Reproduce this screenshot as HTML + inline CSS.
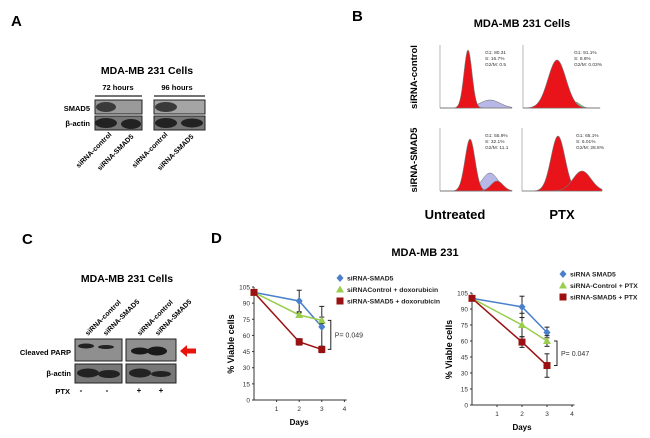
<!DOCTYPE html>
<html><head><meta charset="utf-8"><style>
body{margin:0;background:#fff;width:650px;height:438px;overflow:hidden;font-family:"Liberation Sans",Arial,sans-serif}
svg{position:absolute;left:0;top:0}
</style></head><body>
<svg id="fig" width="650" height="438" viewBox="0 0 650 438" font-family="Liberation Sans, Arial, sans-serif">
<g>
<text x="11" y="26" font-size="15" font-weight="bold">A</text>
<text x="147" y="74" font-size="10.5" font-weight="bold" text-anchor="middle">MDA-MB 231 Cells</text>
<text x="118" y="90" font-size="7.5" font-weight="bold" text-anchor="middle">72 hours</text>
<text x="177" y="90" font-size="7.5" font-weight="bold" text-anchor="middle">96 hours</text>
<line x1="95" y1="96" x2="142" y2="96" stroke="#222" stroke-width="1.2"/>
<line x1="154" y1="96" x2="205" y2="96" stroke="#222" stroke-width="1.2"/>
<text x="90" y="111" font-size="7.5" font-weight="bold" text-anchor="end">SMAD5</text>
<text x="90" y="126" font-size="7.5" font-weight="bold" text-anchor="end">β-actin</text>
<g>
<rect x="95" y="100" width="47" height="14" fill="#9a9a9a" stroke="#222"/>
<ellipse cx="106" cy="107" rx="10" ry="5" fill="#3a3a3a"/>
<rect x="154" y="100" width="51" height="14" fill="#a5a5a5" stroke="#222"/>
<ellipse cx="166" cy="107" rx="11" ry="5" fill="#3a3a3a"/>
<rect x="95" y="116" width="47" height="14" fill="#777" stroke="#222"/>
<ellipse cx="106" cy="123" rx="11" ry="5" fill="#222"/><ellipse cx="131" cy="124" rx="10" ry="5" fill="#222"/>
<rect x="154" y="116" width="51" height="14" fill="#777" stroke="#222"/>
<ellipse cx="166" cy="123" rx="11" ry="5" fill="#222"/><ellipse cx="192" cy="123" rx="11" ry="4.5" fill="#222"/>
</g>
<g font-size="7" font-weight="bold">
<text transform="translate(112,135) rotate(-45)" text-anchor="end">siRNA-control</text>
<text transform="translate(134,137) rotate(-45)" text-anchor="end">siRNA-SMAD5</text>
<text transform="translate(168,135) rotate(-45)" text-anchor="end">siRNA-control</text>
<text transform="translate(194,137) rotate(-45)" text-anchor="end">siRNA-SMAD5</text>
</g>
</g>
<g>
<text x="352" y="21" font-size="15" font-weight="bold">B</text>
<text x="522" y="27" font-size="11" font-weight="bold" text-anchor="middle">MDA-MB 231 Cells</text>
<text transform="translate(417,77) rotate(-90)" font-size="9.5" font-weight="bold" text-anchor="middle">siRNA-control</text>
<text transform="translate(417,160) rotate(-90)" font-size="9.5" font-weight="bold" text-anchor="middle">siRNA-SMAD5</text>
<text x="455" y="219" font-size="13" font-weight="bold" text-anchor="middle">Untreated</text>
<text x="562" y="219" font-size="13" font-weight="bold" text-anchor="middle">PTX</text>
<g id="hists"></g>
</g>
<g>
<text x="22" y="244" font-size="15" font-weight="bold">C</text>
<text x="127" y="282" font-size="10.5" font-weight="bold" text-anchor="middle">MDA-MB 231 Cells</text>
<g font-size="7" font-weight="bold">
<text transform="translate(88,336) rotate(-45)">siRNA-control</text>
<text transform="translate(106,336) rotate(-45)">siRNA-SMAD5</text>
<text transform="translate(140,336) rotate(-45)">siRNA-control</text>
<text transform="translate(158,336) rotate(-45)">siRNA-SMAD5</text>
</g>
<text x="71" y="355" font-size="7.5" font-weight="bold" text-anchor="end">Cleaved PARP</text>
<text x="71" y="376" font-size="7.5" font-weight="bold" text-anchor="end">β-actin</text>
<text x="70" y="394" font-size="7.5" font-weight="bold" text-anchor="end">PTX</text>
<g font-size="8" font-weight="bold" text-anchor="middle"><text x="81" y="393">-</text><text x="107" y="393">-</text><text x="139" y="393">+</text><text x="161" y="393">+</text></g>
<g>
<rect x="75" y="339" width="47" height="22" fill="#8f8f8f" stroke="#222"/>
<ellipse cx="86" cy="346" rx="8" ry="2.5" fill="#222"/><ellipse cx="106" cy="347" rx="8" ry="2" fill="#222"/>
<rect x="126" y="339" width="50" height="22" fill="#8f8f8f" stroke="#222"/>
<ellipse cx="140" cy="351" rx="9" ry="3.5" fill="#1a1a1a"/><ellipse cx="157" cy="351" rx="10" ry="4.5" fill="#1a1a1a"/>
<rect x="75" y="364" width="47" height="19" fill="#777" stroke="#222"/>
<ellipse cx="88" cy="373" rx="11" ry="4.5" fill="#222"/><ellipse cx="109" cy="374" rx="11" ry="4" fill="#222"/>
<rect x="126" y="364" width="50" height="19" fill="#777" stroke="#222"/>
<ellipse cx="140" cy="373" rx="11" ry="4.5" fill="#222"/><ellipse cx="161" cy="374" rx="10" ry="3" fill="#222"/>
</g>
<path d="M180,351 L187,345 L187,348.5 L196,348.5 L196,353.5 L187,353.5 L187,357 Z" fill="#e8140c"/>
</g>
<g>
<text x="211" y="243" font-size="15" font-weight="bold">D</text>
<text x="425" y="256" font-size="11" font-weight="bold" text-anchor="middle">MDA-MB 231</text>
<g id="chart1"></g>
<g id="chart2"></g>
</g>
</svg>
<script>
// Chart 1 data (doxorubicin)
const days = [0, 2, 3];
const xTicks = [1, 2, 3, 4];
const yTicks = [0, 15, 30, 45, 60, 75, 90, 105];
const c1Names = ["siRNA-SMAD5", "siRNAControl + doxorubicin", "siRNA-SMAD5 + doxorubicin"];
const c1Smad5 = [100, 92, 68];
const c1Smad5Err = [2, 10, 19];
const c1Ctrl = [100, 79, 74];
const c1CtrlErr = [1, 2, 3];
const c1Combo = [100, 54, 47];
const c1ComboErr = [1, 3, 3];
const c1P = "P= 0.049";
// Chart 2 data (PTX)
const c2Names = ["siRNA SMAD5", "siRNA-Control + PTX", "siRNA-SMAD5 + PTX"];
const c2Smad5 = [100, 92, 68];
const c2Smad5Err = [2, 10, 5];
const c2Ctrl = [100, 75, 60];
const c2CtrlErr = [1, 11, 5];
const c2Combo = [100, 59, 37];
const c2ComboErr = [2, 5, 11];
const c2P = "P= 0.047";

const NS = "http://www.w3.org/2000/svg";
function mk(parent, tag, attrs, text){
  const e = document.createElementNS(NS, tag);
  for (const k in attrs) e.setAttribute(k, attrs[k]);
  if (text !== undefined) e.textContent = text;
  parent.appendChild(e); return e;
}
const colors = ["#4a7fcb", "#9acd4e", "#9b1010"];

function drawChart(g, cfg){
  const X = d => cfg.x0 + d * cfg.dx;
  const Y = v => cfg.y0 - v * cfg.yh / 105;
  mk(g,"line",{x1:cfg.x0,y1:Y(0),x2:X(4.1),y2:Y(0),stroke:"#333","stroke-width":1});
  mk(g,"line",{x1:cfg.x0,y1:Y(0),x2:cfg.x0,y2:Y(105),stroke:"#333","stroke-width":1});
  yTicks.forEach(t=>{
    mk(g,"line",{x1:cfg.x0-2,y1:Y(t),x2:cfg.x0,y2:Y(t),stroke:"#333"});
    const tl = mk(g,"text",{x:cfg.x0-4,y:Y(t)+2.5,"font-size":6.5,"text-anchor":"end",fill:"#333"},t);
    
    
  });
  xTicks.forEach(t=>{
    mk(g,"line",{x1:X(t),y1:Y(0),x2:X(t),y2:Y(0)+2,stroke:"#333"});
    const tl = mk(g,"text",{x:X(t),y:Y(0)+11,"font-size":6.5,"text-anchor":"middle",fill:"#333"},t);
    
    
  });
  const yt = mk(g,"text",{transform:`translate(${cfg.x0-20},${Y(52)}) rotate(-90)`,"font-size":9,"font-weight":"bold","text-anchor":"middle"},"% Viable cells");
  
  
  const xt = mk(g,"text",{x:X(2),y:Y(0)+25,"font-size":8,"font-weight":"bold","text-anchor":"middle"},"Days");
  
  
  cfg.series.forEach((s,i)=>{
    const pts = s.vals.map((v,j)=>X(days[j])+","+Y(v)).join(" ");
    const ln = mk(g,"polyline",{points:pts,fill:"none",stroke:colors[i],"stroke-width":1.5});
    
    
  });
  cfg.series.forEach((s,i)=>{
    s.vals.forEach((v,j)=>{
      const x = X(days[j]), y = Y(v), e = s.err[j];
      if (j>0){
        mk(g,"line",{x1:x,y1:Y(v+e),x2:x,y2:Y(v-e),stroke:"#222","stroke-width":1});
        mk(g,"line",{x1:x-2.5,y1:Y(v+e),x2:x+2.5,y2:Y(v+e),stroke:"#222"});
        mk(g,"line",{x1:x-2.5,y1:Y(v-e),x2:x+2.5,y2:Y(v-e),stroke:"#222"});
      }
      let m;
      if (i===0) m = mk(g,"path",{d:`M${x},${y-4}L${x+3.5},${y}L${x},${y+4}L${x-3.5},${y}Z`,fill:colors[0]});
      else if (i===1) m = mk(g,"path",{d:`M${x},${y-4}L${x+4},${y+3}L${x-4},${y+3}Z`,fill:colors[1]});
      else m = mk(g,"rect",{x:x-3.5,y:y-3.5,width:7,height:7,fill:colors[2]});
      
      
    });
  });
  cfg.names.forEach((n,i)=>{
    const ly = cfg.ly + i*11.5, lx = cfg.lx;
    if (i===0) mk(g,"path",{d:`M${lx},${ly-4}L${lx+3.5},${ly}L${lx},${ly+4}L${lx-3.5},${ly}Z`,fill:colors[0]});
    else if (i===1) mk(g,"path",{d:`M${lx},${ly-4}L${lx+4},${ly+3}L${lx-4},${ly+3}Z`,fill:colors[1]});
    else mk(g,"rect",{x:lx-3.5,y:ly-3.5,width:7,height:7,fill:colors[2]});
    const t = mk(g,"text",{x:lx+7,y:ly+2.5,"font-size":6.8,"font-weight":"bold",fill:"#222"},n);
    
    
  });
  const bx = X(3)+cfg.bo, ya = Y(cfg.series[1].vals[2]), yb = Y(cfg.series[2].vals[2]);
  mk(g,"path",{d:`M${bx-3},${ya}H${bx}V${yb}H${bx-3}`,fill:"none",stroke:"#222"});
  const pt = mk(g,"text",{x:bx+4,y:(ya+yb)/2+2.5,"font-size":7,fill:"#333"},cfg.p);
  
  
}
drawChart(document.getElementById("chart1"),{x0:254,dx:22.6,y0:400,yh:113,lx:340,ly:278,bo:9,p:c1P,names:c1Names,
  series:[{vals:c1Smad5,err:c1Smad5Err},{vals:c1Ctrl,err:c1CtrlErr},{vals:c1Combo,err:c1ComboErr}]});
drawChart(document.getElementById("chart2"),{x0:472,dx:25,y0:405,yh:112,lx:563,ly:274,bo:10,p:c2P,names:c2Names,
  series:[{vals:c2Smad5,err:c2Smad5Err},{vals:c2Ctrl,err:c2CtrlErr},{vals:c2Combo,err:c2ComboErr}]});

// Histograms (panel B)
const histG1 = ["80.31", "91.1%", "55.9%", "65.1%"];
const histS = ["16.7%", "8.8%", "32.1%", "6.01%"];
const histG2 = ["0.5", "0.03%", "11.1", "28.8%"];
const hg = document.getElementById("hists");
const panels = [
  {x0:440,x1:512,top:45,base:108,pk:[[468,4,58]],sub:[[490,10,8,"#b8b8e8"]],tx:485},
  {x0:523,x1:600,top:45,base:108,pk:[[557,9,48]],sub:[[575,5,6,"#7fcf8f"]],tx:574},
  {x0:440,x1:512,top:128,base:191,pk:[[470,5,52],[497,6,10]],sub:[[490,8,18,"#b8b8e8"]],tx:485},
  {x0:522,x1:602,top:128,base:191,pk:[[558,7,55],[582,9,20]],sub:[],tx:576}
];
function gpath(x0,x1,base,c,s,h){
  let d=`M${x0},${base}`;
  for(let x=x0;x<=x1;x+=1) d+=`L${x},${base-h*Math.exp(-((x-c)**2)/(2*s*s))}`;
  return d+`L${x1},${base}Z`;
}
panels.forEach((p,i)=>{
  const g = mk(hg,"g",{});
  
  
  mk(g,"line",{x1:p.x0,y1:p.top,x2:p.x0,y2:p.base,stroke:"#888","stroke-width":0.6});
  mk(g,"line",{x1:p.x0,y1:p.base,x2:p.x1,y2:p.base,stroke:"#888","stroke-width":0.6});
  p.sub.forEach(s=>mk(g,"path",{d:gpath(p.x0,p.x1,p.base,s[0],s[1],s[2]),fill:s[3],stroke:"#666","stroke-width":0.5}));
  p.pk.forEach(k=>mk(g,"path",{d:gpath(p.x0,p.x1,p.base,k[0],k[1],k[2]),fill:"#e8141a",stroke:"#777","stroke-width":0.6}));
  const tx = p.tx;
  mk(g,"text",{x:tx,y:p.top+9,"font-size":4.8,fill:"#333"},"G1: "+histG1[i]);
  mk(g,"text",{x:tx,y:p.top+15,"font-size":4.8,fill:"#333"},"S:  "+histS[i]);
  mk(g,"text",{x:tx,y:p.top+21,"font-size":4.8,fill:"#333"},"G2/M: "+histG2[i]);
});
</script>
</body></html>
